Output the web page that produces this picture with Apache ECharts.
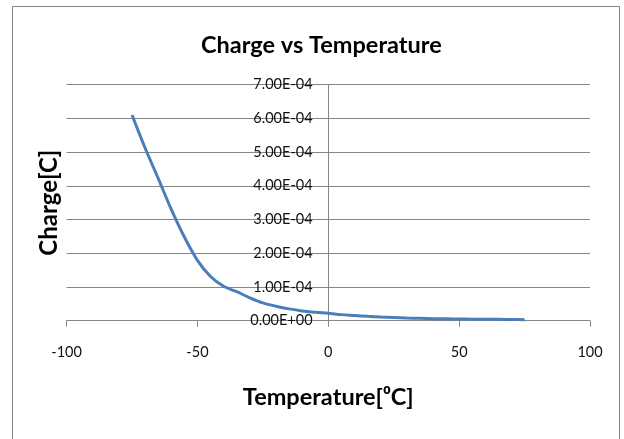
<!DOCTYPE html>
<html>
<head>
<meta charset="utf-8">
<script src="https://cdn.jsdelivr.net/npm/echarts@6/dist/echarts.min.js"></script>
<style>
html,body{margin:0;padding:0;background:#fff;}
#chart{width:624px;height:439px;}
</style>
</head>
<body>
<div id="chart"></div>
<script>
const temperatures = [-75,-70,-65,-60,-55,-50,-45,-40,-35,-30,-25,-20,-15,-10,-5,0,5,10,15,20,25,30,35,40,45,50,55,60,65,70,75];
const charges = [6.10e-4,5.12e-4,4.22e-4,3.30e-4,2.48e-4,1.79e-4,1.31e-4,1.02e-4,0.86e-4,0.68e-4,0.53e-4,0.43e-4,0.35e-4,0.29e-4,0.25e-4,0.22e-4,0.18e-4,0.155e-4,0.13e-4,0.11e-4,0.095e-4,0.08e-4,0.07e-4,0.06e-4,0.055e-4,0.05e-4,0.045e-4,0.04e-4,0.04e-4,0.035e-4,0.03e-4];
const xTicks = [-100,-50,0,50,100];
const yTicks = [0,1e-4,2e-4,3e-4,4e-4,5e-4,6e-4,7e-4];

const FONT = 'Lato';
function sci(v){
  let s = Number(v).toExponential(2).toUpperCase();
  return s.replace(/E([+-])(\d)$/, 'E$10$2');
}
const chart = echarts.init(document.getElementById('chart'), null, {renderer:'canvas'});
chart.setOption({
  animation:false,
  backgroundColor:'#fff',
  title:{
    text:'Charge vs Temperature',
    left:196, top:28,
    textStyle:{fontFamily:FONT,fontWeight:'bold',fontSize:23.5,color:'#000'}
  },
  graphic:[{type:'rect',shape:{x:12.5,y:6.5,width:607,height:460},style:{fill:null,stroke:'#868686',lineWidth:1},silent:true}],
  grid:{left:66.6,right:34,top:84.6,bottom:118.3,containLabel:false,outerBoundsMode:'none'},
  xAxis:{
    type:'value', min:xTicks[0], max:xTicks[xTicks.length-1], interval:50,
    name:'Temperature[\u2070C]', nameLocation:'middle', nameGap:65,
    nameTextStyle:{fontFamily:FONT,fontWeight:'bold',fontSize:23.5,color:'#000'},
    axisLine:{show:true,lineStyle:{color:'#868686',width:1}},
    axisTick:{show:true,length:6,lineStyle:{color:'#868686'}},
    axisLabel:{fontFamily:FONT,fontSize:14.5,color:'#111',margin:24},
    splitLine:{show:false}
  },
  yAxis:{
    type:'value', min:yTicks[0], max:yTicks[yTicks.length-1], interval:1e-4,
    name:'Charge[C]', nameLocation:'middle', nameGap:5,
    nameTextStyle:{fontFamily:FONT,fontWeight:'bold',fontSize:24,color:'#000'},
    axisLine:{show:true,onZero:true,lineStyle:{color:'#868686',width:1}},
    axisTick:{show:false},
    axisLabel:{fontFamily:FONT,fontSize:14.5,color:'#111',margin:-246,formatter:sci},
    splitLine:{show:true,lineStyle:{color:'#868686',width:1}}
  },
  series:[{
    type:'line',
    data:temperatures.map((t,i)=>[t,charges[i]]),
    smooth:0.3,
    showSymbol:false,
    lineStyle:{color:'#4a7ebb',width:3},
    itemStyle:{color:'#4a7ebb'}
  }]
});
</script>
</body>
</html>
